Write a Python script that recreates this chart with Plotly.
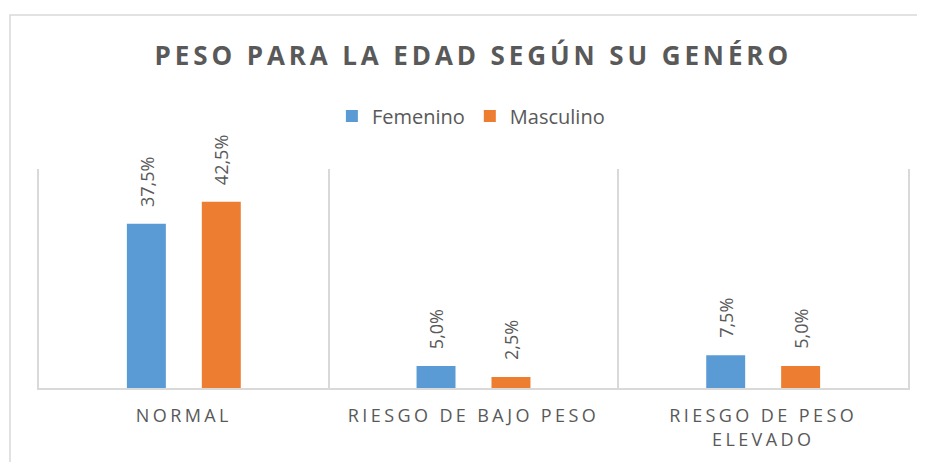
import plotly.graph_objects as go

categories = ["NORMAL", "RIESGO DE BAJO PESO", "RIESGO DE PESO ELEVADO"]
tick_labels = [["NORMAL"], ["RIESGO DE BAJO PESO"], ["RIESGO DE PESO", "ELEVADO"]]
series_names = ["Femenino", "Masculino"]
femenino = [37.5, 5.0, 7.5]
masculino = [42.5, 2.5, 5.0]

colors = ["#5B9BD5", "#ED7D31"]
text_color = "#595959"
grid_color = "#D9D9D9"
FONT = "Open Sans"

bar_width = 0.1345
offsets = [-0.1966, 0.0621]


def fmt(v):
    return f"{v:.1f}%".replace(".", ",")


def spaced(s, px):
    return f"<span style='letter-spacing:{px}px'>{s}</span>"


fig = go.Figure()
annotations = []
for name, vals, col, off in zip(series_names, [femenino, masculino], colors, offsets):
    fig.add_trace(go.Bar(
        name=name, x=categories, y=vals, marker_color=col,
        marker_line_width=0, width=bar_width, offset=off,
        hoverinfo="skip",
    ))
    for i, v in enumerate(vals):
        annotations.append(dict(
            x=i + off + bar_width / 2, y=v, xref="x", yref="y",
            text=fmt(v), textangle=-90, showarrow=False,
            xanchor="center", yanchor="bottom", yshift=15,
            font=dict(family=FONT, size=18, color=text_color),
        ))

ticktext = ["<br>".join(spaced(line, 3.4) for line in lines) for lines in tick_labels]

fig.update_layout(
    width=925, height=462,
    margin=dict(l=31, r=25, t=161, b=82),
    paper_bgcolor="white", plot_bgcolor="white",
    barmode="group",
    title=dict(
        text="<b>" + spaced("PESO PARA LA EDAD SEGÚN SU GENÉRO", 3.9) + "</b>",
        x=0.503, xref="container", xanchor="center",
        y=0.896, yref="container", yanchor="middle",
        font=dict(family=FONT, size=26, color=text_color),
    ),
    legend=dict(
        orientation="h", x=0.497, xanchor="center", y=1.242, yanchor="middle",
        font=dict(family=FONT, size=20, color=text_color),
        itemwidth=30, traceorder="normal",
    ),
    xaxis=dict(
        type="category", categoryorder="array", categoryarray=categories,
        tickvals=categories, ticktext=ticktext,
        range=[-0.5, 2.5], tickson="boundaries",
        showgrid=True, gridcolor=grid_color, gridwidth=1.5,
        showline=True, linecolor=grid_color, linewidth=1.5,
        ticks="", ticklabelstandoff=11,
        tickfont=dict(family=FONT, size=18, color=text_color),
        fixedrange=True,
    ),
    yaxis=dict(
        range=[0, 50], showticklabels=False, showgrid=False, zeroline=False,
        showline=True, mirror=True, linecolor=grid_color, linewidth=1.5,
        ticks="", fixedrange=True,
    ),
    annotations=annotations,
    shapes=[dict(
        type="rect", xref="paper", yref="paper",
        x0=-0.0334, x1=1.2, y0=-0.6, y1=1.703,
        line=dict(color=grid_color, width=1.5), fillcolor="rgba(0,0,0,0)",
        layer="below",
    )],
    showlegend=True,
)

fig.write_html("out.html")
